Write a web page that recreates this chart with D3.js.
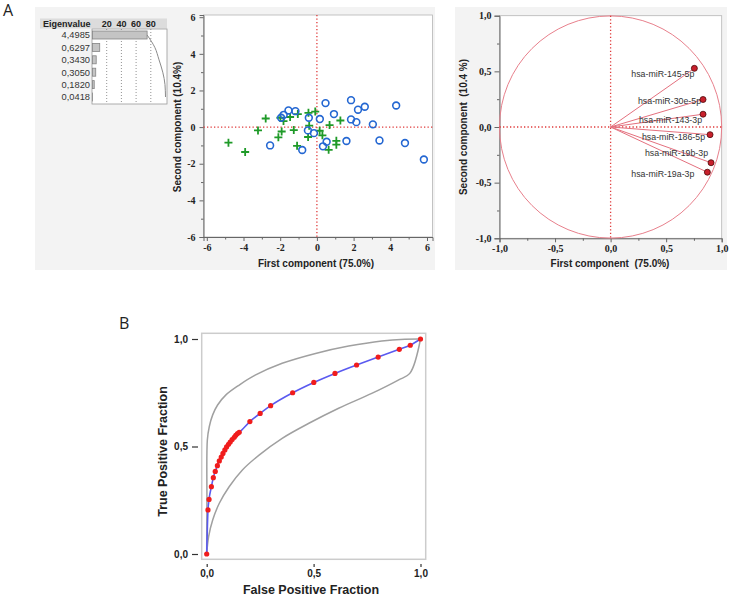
<!DOCTYPE html>
<html><head><meta charset="utf-8">
<script src="https://cdn.jsdelivr.net/npm/d3@7"></script>
<style>body{margin:0;background:#fff}svg{display:block}</style>
</head><body>
<svg id="c" width="730" height="604"></svg>
<script>
// ---------------- data ----------------
const eigenvalues = [4.4985, 0.6297, 0.3430, 0.3050, 0.1820, 0.0418];
const eigenPctTicks = [20, 40, 60, 80];

const scoreTicks = [-6, -4, -2, 0, 2, 4, 6];
const circlePC1 = [-2.55,-1.95,-1.81,-1.55,-1.17,-0.80,-0.44,-0.49,-0.16,0.16,0.47,0.53,0.33,0.93,1.61,1.86,1.86,2.15,2.24,2.61,3.05,3.41,4.32,4.80,5.83];
const circlePC2 = [-1.00,0.51,0.67,0.91,0.87,-1.25,0.51,-0.18,-0.33,0.44,1.31,-0.80,-1.05,0.71,-0.76,1.47,0.42,0.27,0.95,1.11,0.15,-0.73,1.18,-0.87,-1.77];
const plusPC1 = [-4.82,-3.91,-3.21,-2.79,-2.10,-1.99,-1.92,-1.82,-1.46,-1.26,-1.04,-1.08,-0.46,-0.09,-0.42,-0.48,0.15,0.30,0.64,0.69,1.06,1.06,1.28];
const plusPC2 = [-0.85,-1.36,-0.18,0.47,-0.56,0.51,-0.24,0.33,0.55,-0.16,0.71,-1.02,0.78,0.85,0.08,-0.54,-0.20,-0.45,-1.24,0.11,-0.75,-0.96,0.36];

const loadingTicks = [-1, -0.5, 0, 0.5, 1];
const loadingNames = ["hsa-miR-145-5p","hsa-miR-30e-5p","hsa-miR-143-3p","hsa-miR-186-5p","hsa-miR-19b-3p","hsa-miR-19a-3p"];
const loadingPC1 = [0.754, 0.832, 0.832, 0.895, 0.904, 0.871];
const loadingPC2 = [0.527, 0.247, 0.115, -0.069, -0.321, -0.406];

const rocTicks = [0, 0.5, 1];
const rocFPR = [0,0.006,0.011,0.022,0.031,0.040,0.050,0.059,0.068,0.076,0.085,0.093,0.102,0.110,0.119,0.129,0.136,0.144,0.152,0.202,0.250,0.299,0.402,0.501,0.600,0.701,0.802,0.901,0.952,1];
const rocTPR = [0,0.205,0.254,0.313,0.355,0.384,0.411,0.433,0.451,0.468,0.484,0.498,0.510,0.521,0.532,0.543,0.552,0.560,0.566,0.616,0.654,0.690,0.750,0.798,0.840,0.879,0.916,0.952,0.971,1];
const upperFPR = [0,0.001,0.003,0.012,0.028,0.051,0.090,0.152,0.229,0.353,0.509,0.664,0.819,0.927,1];
const upperTPR = [0,0.25,0.53,0.592,0.647,0.693,0.740,0.786,0.833,0.887,0.933,0.967,0.991,0.999,1];
const lowerFPR = [0,0.009,0.028,0.059,0.105,0.167,0.245,0.353,0.478,0.617,0.772,0.896,0.950,1];
const lowerTPR = [0,0.081,0.158,0.236,0.313,0.391,0.460,0.538,0.608,0.678,0.747,0.809,0.840,1];

// ---------------- drawing ----------------
const svg = d3.select("#c");
const SERIF = "'Liberation Serif','Times New Roman',serif";
const SANS = "'Liberation Sans',Arial,sans-serif";
const comma1 = d => d.toFixed(1).replace(".", ",");

function styleAxis(g, font, size, weight, color) {
  g.select(".domain").attr("stroke", "#666");
  g.selectAll(".tick line").attr("stroke", "#666");
  g.selectAll(".tick text").attr("font-family", font).attr("font-size", size)
    .attr("font-weight", weight).attr("fill", color);
}

// panel backgrounds
svg.append("rect").attr("x", 35).attr("y", 7).attr("width", 400).attr("height", 263).attr("fill", "#f3f3f3");
svg.append("rect").attr("x", 455).attr("y", 7).attr("width", 272).attr("height", 263).attr("fill", "#f3f3f3");

// panel letters
svg.append("text").attr("x", 3).attr("y", 16).text("A")
  .attr("font-family", "'Open Sans',sans-serif").attr("font-size", 16).attr("fill", "#222");
svg.append("text").attr("x", 119).attr("y", 329).text("B")
  .attr("font-family", "'Open Sans',sans-serif").attr("font-size", 16).attr("fill", "#222");

// ---------- eigenvalue table ----------
const total = d3.sum(eigenvalues);
const pct = eigenvalues.map(v => v / total * 100);
const cum = d3.cumsum(pct);
const ex = d3.scaleLinear([0, 100], [92, 165.5]);
const ey = d3.scalePoint(d3.range(eigenvalues.length), [35, 97]);
svg.append("rect").attr("x", 40).attr("y", 18.5).attr("width", 127).attr("height", 10).attr("fill", "#dcdcdc");
svg.append("text").attr("x", 43).attr("y", 26.5).text("Eigenvalue")
  .attr("font-family", SANS).attr("font-size", 9).attr("font-weight", "bold").attr("fill", "#222");
svg.selectAll(".pt").data(eigenPctTicks).join("text")
  .attr("x", d => ex(d)).attr("y", 26.5).attr("text-anchor", "middle").text(d => d)
  .attr("font-family", SANS).attr("font-size", 9).attr("font-weight", "bold").attr("fill", "#222");
svg.append("rect").attr("x", 92).attr("y", 29).attr("width", 75).attr("height", 75)
  .attr("fill", "#fff").attr("stroke", "#999").attr("stroke-width", 0.8);
svg.selectAll(".pl").data(eigenPctTicks).join("line")
  .attr("x1", d => ex(d)).attr("x2", d => ex(d)).attr("y1", 29).attr("y2", 104)
  .attr("stroke", "#777").attr("stroke-width", 0.8).attr("stroke-dasharray", "1,2");
svg.selectAll(".eb").data(pct).join("rect")
  .attr("x", ex(0) + 0.5).attr("y", (d, i) => ey(i) - 4).attr("height", 8)
  .attr("width", d => Math.max(0, ex(d) - ex(0) - 0.5))
  .attr("fill", "#c4c4c4").attr("stroke", "#858585").attr("stroke-width", 0.8);
svg.selectAll(".el").data(eigenvalues).join("text")
  .attr("x", 90).attr("y", (d, i) => ey(i) + 3.3).attr("text-anchor", "end")
  .text(d => d.toFixed(4).replace(".", ","))
  .attr("font-family", SANS).attr("font-size", 9.3).attr("fill", "#333");
svg.append("path")
  .attr("d", d3.line().x(d => ex(d)).y((d, i) => ey(i)).curve(d3.curveMonotoneY)(cum))
  .attr("fill", "none").attr("stroke", "#8a8a8a").attr("stroke-width", 1);

// ---------- score plot ----------
const xs = d3.scaleLinear([-6.18, 6.3], [203.5, 432.5]);
const ys = d3.scaleLinear([-6, 6.12], [237, 15]);
svg.append("rect").attr("x", 203.5).attr("y", 15).attr("width", 229).attr("height", 222)
  .attr("fill", "#fff").attr("stroke", "#b5b5b5").attr("stroke-width", 0.8);
const minorScore = d3.pairs(scoreTicks).map(p => (p[0] + p[1]) / 2);
svg.append("g").attr("transform", "translate(203.5,0)")
  .call(d3.axisLeft(ys).tickValues(minorScore).tickSize(2.5).tickFormat(""))
  .call(g => { g.select(".domain").remove(); g.selectAll("line").attr("stroke", "#666"); });
svg.append("g").attr("transform", "translate(0,237)")
  .call(d3.axisBottom(xs).tickValues(minorScore).tickSize(2.5).tickFormat(""))
  .call(g => { g.select(".domain").remove(); g.selectAll("line").attr("stroke", "#666"); });
svg.append("g").attr("transform", "translate(203.5,0)")
  .call(d3.axisLeft(ys).tickValues(scoreTicks).tickSize(4).tickPadding(4).tickFormat(d => String(d)))
  .call(g => styleAxis(g, SERIF, 10, "bold", "#222"));
svg.append("g").attr("transform", "translate(0,237)")
  .call(d3.axisBottom(xs).tickValues(scoreTicks).tickSize(4).tickPadding(3).tickFormat(d => String(d)))
  .call(g => styleAxis(g, SERIF, 10, "bold", "#222"));
// zero reference lines
svg.append("line").attr("x1", xs(0)).attr("x2", xs(0)).attr("y1", 15).attr("y2", 237)
  .attr("stroke", "#e03a3a").attr("stroke-width", 1.3).attr("stroke-dasharray", "1.3,2.2");
svg.append("line").attr("x1", 203.5).attr("x2", 432.5).attr("y1", ys(0)).attr("y2", ys(0))
  .attr("stroke", "#e03a3a").attr("stroke-width", 1.3).attr("stroke-dasharray", "1.3,2.2");
// points
svg.selectAll(".plus").data(plusPC1).join("path")
  .attr("transform", (d, i) => `translate(${xs(d)},${ys(plusPC2[i])})`)
  .attr("d", "M-4,0H4M0,-4V4").attr("stroke", "#1f9a28").attr("stroke-width", 1.8).attr("fill", "none");
svg.selectAll(".circ").data(circlePC1).join("circle")
  .attr("cx", d => xs(d)).attr("cy", (d, i) => ys(circlePC2[i])).attr("r", 3.4)
  .attr("fill", "none").attr("stroke", "#2467d2").attr("stroke-width", 1.6);
// titles
svg.append("text").attr("x", 316).attr("y", 267).attr("text-anchor", "middle").text("First component (75.0%)")
  .attr("font-family", SANS).attr("font-size", 10).attr("font-weight", "bold").attr("fill", "#222");
svg.append("text").attr("transform", "translate(180.5,127) rotate(-90)").attr("text-anchor", "middle")
  .text("Second component (10.4%)")
  .attr("font-family", SANS).attr("font-size", 10).attr("font-weight", "bold").attr("fill", "#222");

// ---------- loading plot ----------
const lx = d3.scaleLinear([-1, 1], [499.5, 721.7]);
const ly = d3.scaleLinear([-1, 1], [238.3, 15.7]);
svg.append("rect").attr("x", lx(-1)).attr("y", ly(1)).attr("width", lx(1) - lx(-1)).attr("height", ly(-1) - ly(1))
  .attr("fill", "#fff").attr("stroke", "#b5b5b5").attr("stroke-width", 0.8);
const minorLoad = d3.pairs(loadingTicks).map(p => (p[0] + p[1]) / 2);
svg.append("g").attr("transform", `translate(${lx(-1)},0)`)
  .call(d3.axisLeft(ly).tickValues(minorLoad).tickSize(2.5).tickFormat(""))
  .call(g => { g.select(".domain").remove(); g.selectAll("line").attr("stroke", "#666"); });
svg.append("g").attr("transform", `translate(0,${ly(-1)})`)
  .call(d3.axisBottom(lx).tickValues(minorLoad).tickSize(2.5).tickFormat(""))
  .call(g => { g.select(".domain").remove(); g.selectAll("line").attr("stroke", "#666"); });
svg.append("g").attr("transform", `translate(${lx(-1)},0)`)
  .call(d3.axisLeft(ly).tickValues(loadingTicks).tickSize(5).tickPadding(3).tickFormat(comma1))
  .call(g => styleAxis(g, SERIF, 10, "bold", "#222"));
svg.append("g").attr("transform", `translate(0,${ly(-1)})`)
  .call(d3.axisBottom(lx).tickValues(loadingTicks).tickSize(4).tickPadding(3).tickFormat(comma1))
  .call(g => styleAxis(g, SERIF, 10, "bold", "#222"));
svg.append("circle").attr("cx", lx(0)).attr("cy", ly(0)).attr("r", lx(1) - lx(0))
  .attr("fill", "none").attr("stroke", "#e8808c").attr("stroke-width", 1);
svg.append("line").attr("x1", lx(0)).attr("x2", lx(0)).attr("y1", ly(1)).attr("y2", ly(-1))
  .attr("stroke", "#e03a3a").attr("stroke-width", 1.3).attr("stroke-dasharray", "1.3,2.2");
svg.append("line").attr("x1", lx(-1)).attr("x2", lx(1)).attr("y1", ly(0)).attr("y2", ly(0))
  .attr("stroke", "#e03a3a").attr("stroke-width", 1.3).attr("stroke-dasharray", "1.3,2.2");
svg.selectAll(".vec").data(loadingPC1).join("line")
  .attr("x1", lx(0)).attr("y1", ly(0)).attr("x2", d => lx(d)).attr("y2", (d, i) => ly(loadingPC2[i]))
  .attr("stroke", "#e4707e").attr("stroke-width", 1);
// label placement nudges (layout only)
const labelNudge = [[0, 8.5], [-2, 4.5], [-1, 9], [-5, 5], [-3, -7], [-13, 4.5]];
svg.selectAll(".lab").data(loadingNames).join("text")
  .attr("x", (d, i) => lx(loadingPC1[i]) + labelNudge[i][0])
  .attr("y", (d, i) => ly(loadingPC2[i]) + labelNudge[i][1])
  .attr("text-anchor", "end").text(d => d)
  .attr("font-family", SANS).attr("font-size", 8.8).attr("fill", "#333");
svg.selectAll(".lp").data(loadingPC1).join("circle")
  .attr("cx", d => lx(d)).attr("cy", (d, i) => ly(loadingPC2[i])).attr("r", 3)
  .attr("fill", "#c8202c").attr("stroke", "#4a0a0a").attr("stroke-width", 0.8);
svg.append("text").attr("x", 610).attr("y", 267).attr("text-anchor", "middle").style("white-space", "pre")
  .text("First component  (75.0%)")
  .attr("font-family", SANS).attr("font-size", 10).attr("font-weight", "bold").attr("fill", "#222");
svg.append("text").attr("transform", "translate(466.5,127) rotate(-90)").attr("text-anchor", "middle")
  .style("white-space", "pre").text("Second component  (10.4 %)")
  .attr("font-family", SANS).attr("font-size", 10).attr("font-weight", "bold").attr("fill", "#222");

// ---------- ROC ----------
const rx = d3.scaleLinear([0, 1], [206.7, 420.5]);
const ry = d3.scaleLinear([0, 1], [554, 339]);
svg.append("rect").attr("x", 201.7).attr("y", 333.3).attr("width", 224).attr("height", 226)
  .attr("fill", "none").attr("stroke", "#cccccc").attr("stroke-width", 1.5);
svg.append("g").attr("transform", "translate(198,0)")
  .call(d3.axisLeft(ry).tickValues(rocTicks).tickSize(6).tickPadding(4).tickFormat(comma1))
  .call(g => { g.select(".domain").remove(); styleAxis(g, SANS, 10, "bold", "#222");
    g.selectAll(".tick line").attr("stroke", "#333").attr("stroke-width", 1.2); });
svg.append("g").attr("transform", "translate(0,564)")
  .call(d3.axisBottom(rx).tickValues(rocTicks).tickSize(3).tickPadding(3).tickFormat(comma1))
  .call(g => { g.select(".domain").remove(); styleAxis(g, SANS, 10, "bold", "#222");
    g.selectAll(".tick line").attr("stroke", "#333").attr("stroke-width", 1.2); });
const bandLine = d3.line().x(d => rx(d[0])).y(d => ry(d[1])).curve(d3.curveCatmullRom.alpha(0.5));
svg.append("path").attr("d", bandLine(d3.zip(upperFPR, upperTPR)))
  .attr("fill", "none").attr("stroke", "#a0a0a0").attr("stroke-width", 1.5);
svg.append("path").attr("d", bandLine(d3.zip(lowerFPR, lowerTPR)))
  .attr("fill", "none").attr("stroke", "#a0a0a0").attr("stroke-width", 1.5);
svg.append("path").attr("d", d3.line().x(d => rx(d[0])).y(d => ry(d[1])).curve(d3.curveMonotoneX)(d3.zip(rocFPR, rocTPR)))
  .attr("fill", "none").attr("stroke", "#5a5af0").attr("stroke-width", 1.6);
svg.selectAll(".rd").data(rocFPR).join("circle")
  .attr("cx", d => rx(d)).attr("cy", (d, i) => ry(rocTPR[i])).attr("r", 2.6)
  .attr("fill", "#f01c1c");
svg.append("text").attr("x", 311).attr("y", 594).attr("text-anchor", "middle").text("False Positive Fraction")
  .attr("font-family", SANS).attr("font-size", 12.5).attr("font-weight", "bold").attr("fill", "#222");
svg.append("text").attr("transform", "translate(167,451.5) rotate(-90)").attr("text-anchor", "middle")
  .text("True Positive Fraction")
  .attr("font-family", SANS).attr("font-size", 12.5).attr("font-weight", "bold").attr("fill", "#222");
</script>
</body></html>
